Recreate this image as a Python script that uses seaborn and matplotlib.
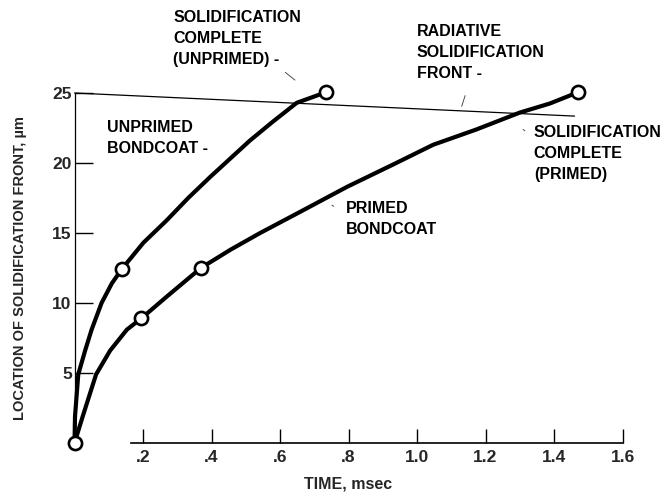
import numpy as np
import pandas as pd
import seaborn as sns
import matplotlib
matplotlib.use("Agg")
import matplotlib.pyplot as plt

# ---- data ----
# smooth curves
unprimed_t = [0.0, 0.0015, 0.011, 0.031, 0.05, 0.079, 0.109, 0.139, 0.201, 0.269,
              0.332, 0.396, 0.454, 0.512, 0.579, 0.649, 0.734]
unprimed_y = [0.0, 1.9, 4.9, 6.6, 8.1, 10.0, 11.4, 12.45, 14.3, 15.9,
              17.5, 19.0, 20.3, 21.6, 22.95, 24.3, 25.05]
primed_t = [0.0, 0.024, 0.063, 0.104, 0.153, 0.195, 0.269, 0.369, 0.455, 0.542,
            0.658, 0.796, 0.931, 1.047, 1.174, 1.30, 1.388, 1.47]
primed_y = [0.0, 1.9, 4.9, 6.6, 8.1, 8.9, 10.45, 12.5, 13.8, 15.0,
            16.5, 18.3, 19.9, 21.3, 22.4, 23.6, 24.25, 25.05]
# plotted (circle) points
unprimed_pts_t = [0.0, 0.139, 0.734]
unprimed_pts_y = [0.0, 12.45, 25.05]
primed_pts_t = [0.195, 0.369, 1.47]
primed_pts_y = [8.9, 12.5, 25.05]
# radiative solidification front
front_t = [0.0, 1.46]
front_y = [25.0, 23.35]

xticks = [0.2, 0.4, 0.6, 0.8, 1.0, 1.2, 1.4, 1.6]
xticklabels = [".2", ".4", ".6", ".8", "1.0", "1.2", "1.4", "1.6"]
yticks = [5, 10, 15, 20, 25]
yticklabels = ["5", "10", "15", "20", "25"]

sns.set_theme(style="white")
plt.rcParams["font.family"] = ["Liberation Sans Narrow", "Liberation Sans", "DejaVu Sans"]
plt.rcParams["font.weight"] = "bold"

fig = plt.figure(figsize=(6.66, 4.94), dpi=100)
ax = fig.add_axes([74.5 / 666, 51 / 494, 548 / 666, 350 / 494])

curves = pd.concat([
    pd.DataFrame({"t": unprimed_t, "y": unprimed_y, "s": "unprimed"}),
    pd.DataFrame({"t": primed_t, "y": primed_y, "s": "primed"}),
])
sns.lineplot(data=curves, x="t", y="y", units="s", estimator=None, sort=False,
             color="black", lw=3.0, ax=ax, legend=False)
front = pd.DataFrame({"t": front_t, "y": front_y})
sns.lineplot(data=front, x="t", y="y", sort=False, color="black", lw=0.9, ax=ax)

pts = pd.DataFrame({"t": unprimed_pts_t + primed_pts_t,
                    "y": unprimed_pts_y + primed_pts_y})
sns.scatterplot(data=pts, x="t", y="y", s=90, marker="o", facecolor="white",
                edgecolor="black", linewidth=1.9, zorder=5, clip_on=False, ax=ax)

ax.set_xlim(0, 1.6)
ax.set_ylim(0, 25)
for c in ax.collections + ax.lines:
    c.set_clip_on(False)
for ln in ax.lines:
    ln.set_solid_joinstyle("round")
    ln.set_solid_capstyle("round")

ax.spines["top"].set_visible(False)
ax.spines["right"].set_visible(False)
ax.spines["left"].set_linewidth(0.9)
ax.spines["left"].set_color("black")
ax.spines["bottom"].set_linewidth(1.2)
ax.spines["bottom"].set_color("black")
ax.spines["bottom"].set_bounds(0.165, 1.6)

ax.set_xticks(xticks)
ax.set_xticklabels(xticklabels)
ax.set_yticks(yticks)
ax.set_yticklabels(yticklabels)
ax.tick_params(axis="x", direction="in", length=10, width=1, color="black",
               pad=5, labelsize=12.5, bottom=True)
ax.tick_params(axis="y", direction="in", length=13, width=1, color="black",
               pad=2, labelsize=12.5, left=True)
for lab in ax.get_xticklabels() + ax.get_yticklabels():
    lab.set_fontweight("bold")

ax.set_xlabel("TIME, msec", fontsize=11.5, fontweight="bold", labelpad=8)
ax.set_ylabel("LOCATION OF SOLIDIFICATION FRONT, µm", fontsize=10.5,
              fontweight="bold", labelpad=18)

tkw = dict(fontsize=11.5, fontweight="bold", ha="left", va="top",
           linespacing=1.5, color="black")
ax.text(0.288, 30.9, "SOLIDIFICATION\nCOMPLETE\n(UNPRIMED) -", **tkw)
ax.text(1.0, 29.9, "RADIATIVE\nSOLIDIFICATION\nFRONT -", **tkw)
ax.text(0.095, 23.07, "UNPRIMED\nBONDCOAT -", **tkw)
ax.text(0.793, 17.29, "PRIMED\nBONDCOAT", **tkw)
ax.text(1.341, 22.71, "SOLIDIFICATION\nCOMPLETE\n(PRIMED)", **tkw)

lkw = dict(arrowprops=dict(arrowstyle="-", lw=0.7, color="0.3"), annotation_clip=False)
ax.annotate("", xy=(0.65, 25.8), xytext=(0.609, 26.6), **lkw)
ax.annotate("", xy=(1.128, 23.86), xytext=(1.143, 25.0), **lkw)
ax.annotate("", xy=(0.757, 16.9), xytext=(0.745, 17.1), **lkw)
ax.annotate("", xy=(1.315, 22.3), xytext=(1.303, 22.5), **lkw)

fig.savefig("out.png", dpi=100)
